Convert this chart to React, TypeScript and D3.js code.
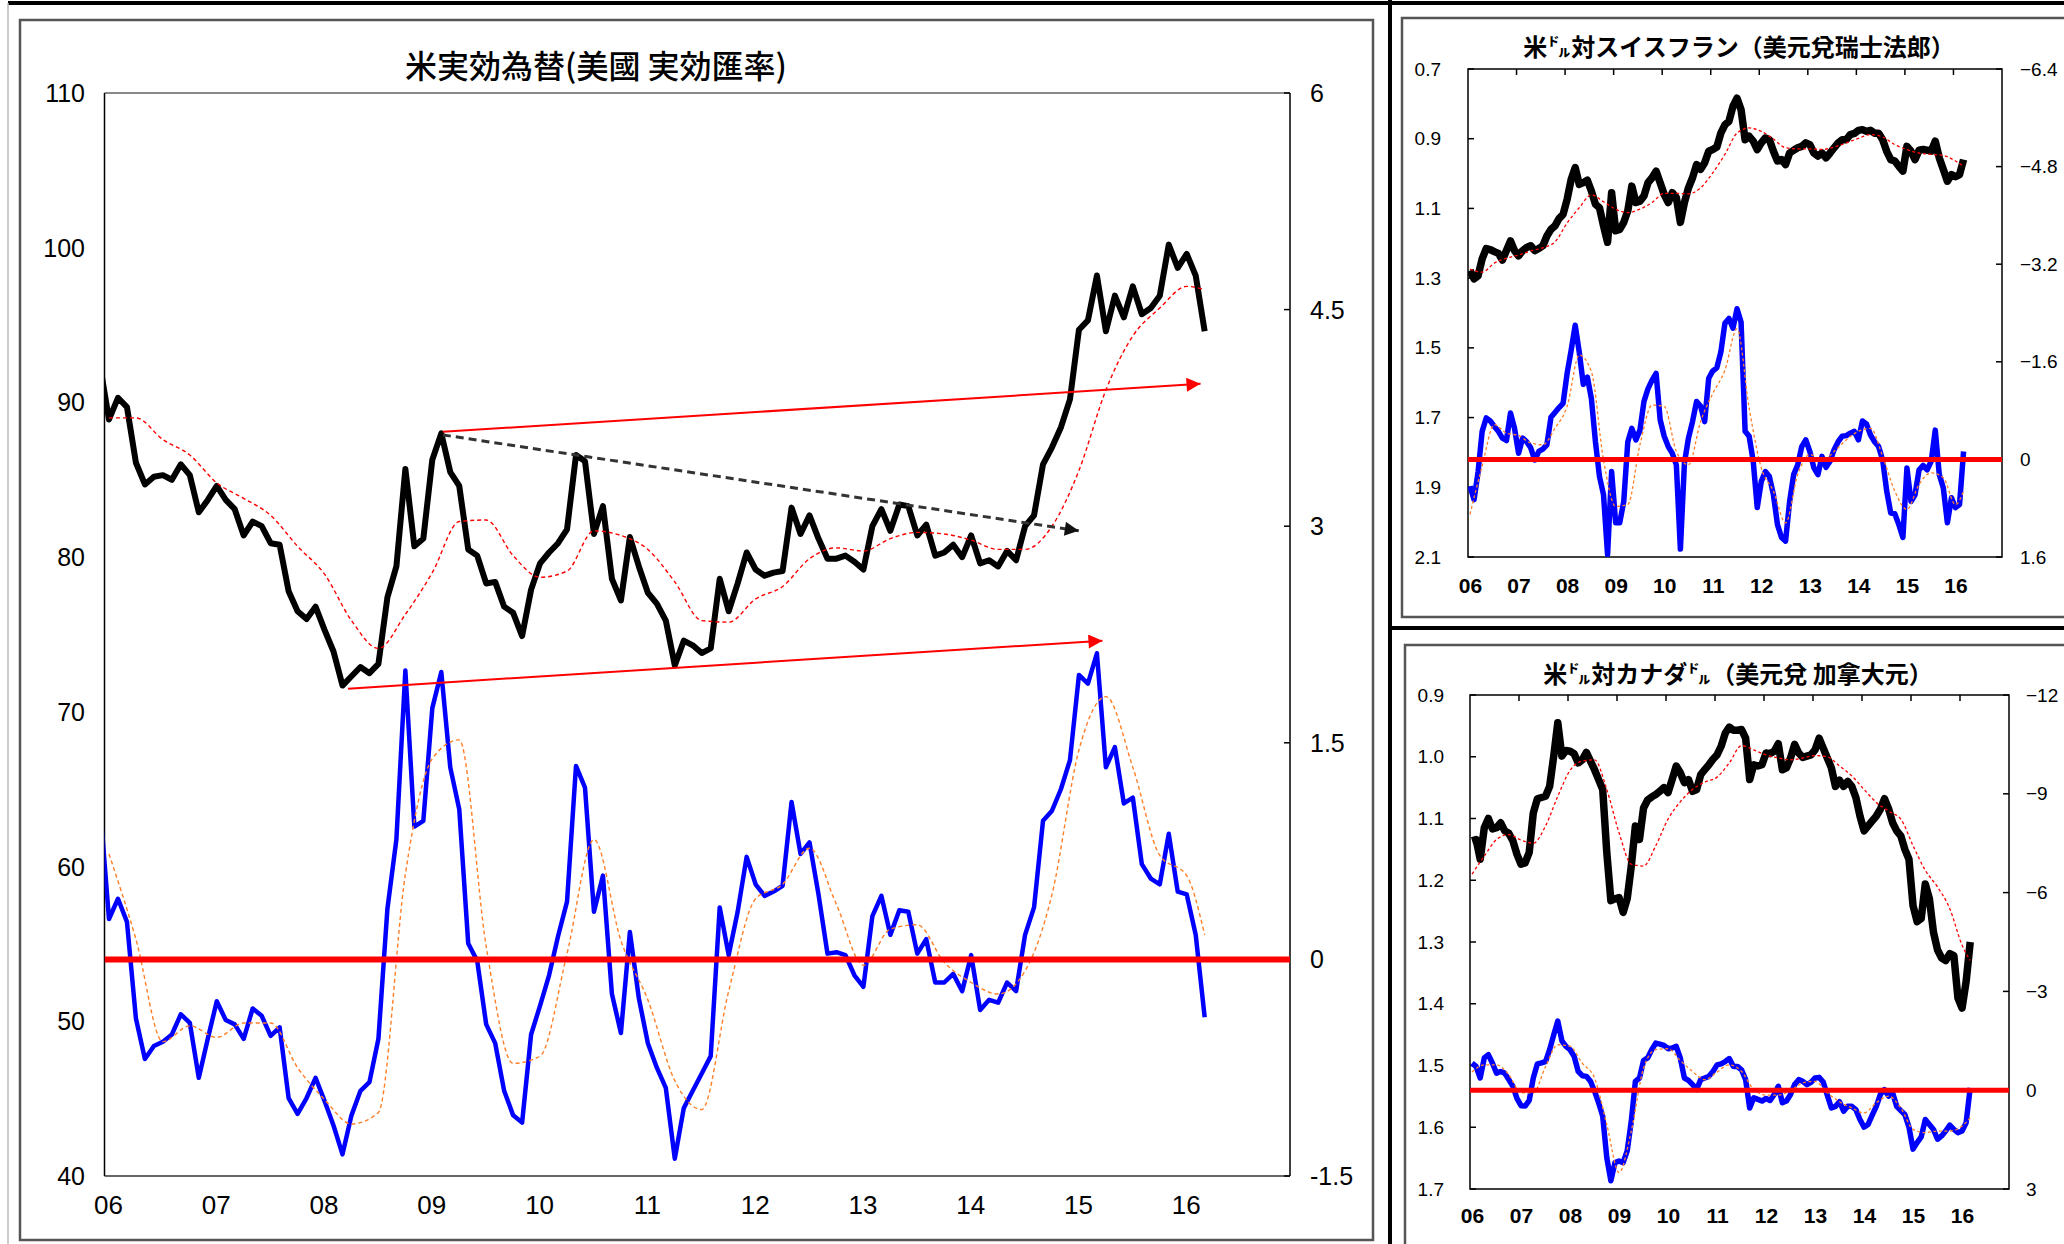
import React from 'react';
import * as d3 from 'd3';

// monthly readings, Dec 2005 (entering at the left edge) .. Mar 2016
const usdIndex = [
  92.4,
  88.9, 90.3, 89.7, 86.1, 84.7, 85.2, 85.3, 85.0, 86.0, 85.3,
  82.9, 83.7, 84.6, 83.7, 83.1, 81.4, 82.3, 82.0, 80.9, 80.8,
  77.8, 76.5, 76.0, 76.8, 75.3, 73.9, 71.7, 72.3, 72.9, 72.5,
  73.1, 77.4, 79.4, 85.7, 80.7, 81.2, 86.3, 88.0, 85.5, 84.6,
  80.5, 80.1, 78.3, 78.4, 76.8, 76.4, 74.9, 77.9, 79.6, 80.3,
  80.9, 81.8, 86.6, 86.2, 81.5, 83.3, 78.6, 77.2, 81.3, 79.4,
  77.7, 77.0, 75.9, 73.0, 74.6, 74.3, 73.8, 74.1, 78.6, 76.5,
  78.3, 80.3, 79.2, 78.8, 79.0, 79.1, 83.2, 81.5, 82.7, 81.2,
  79.9, 79.9, 80.1, 79.7, 79.2, 82.0, 83.1, 81.7, 83.4, 83.3,
  81.4, 82.1, 80.1, 80.3, 80.8, 80.0, 81.4, 79.6, 79.8, 79.4,
  80.4, 79.8, 82.0, 82.7, 86.0, 87.1, 88.4, 90.2, 94.7, 95.3,
  98.2, 94.6, 96.9, 95.5, 97.5, 95.7, 96.1, 96.9, 100.2, 98.7,
  99.6, 98.2, 94.6,
];
const usdMomentum = [
  1.07,
  0.28, 0.42, 0.26, -0.41, -0.69, -0.6, -0.57, -0.52, -0.38, -0.44,
  -0.82, -0.55, -0.29, -0.42, -0.45, -0.55, -0.34, -0.39, -0.53, -0.47,
  -0.96, -1.07, -0.96, -0.82, -0.98, -1.15, -1.35, -1.08, -0.91, -0.85,
  -0.55, 0.35, 0.83, 2.0, 0.92, 0.96, 1.74, 1.99, 1.33, 1.04,
  0.11, -0.01, -0.45, -0.58, -0.91, -1.08, -1.13, -0.52, -0.32, -0.11,
  0.16, 0.4, 1.34, 1.19, 0.33, 0.58, -0.24, -0.51, 0.19, -0.27,
  -0.58, -0.75, -0.89, -1.38, -1.03, -0.91, -0.79, -0.67, 0.36, 0.03,
  0.33, 0.71, 0.52, 0.44, 0.47, 0.51, 1.09, 0.73, 0.81, 0.45,
  0.04, 0.05, 0.03, -0.11, -0.19, 0.3, 0.44, 0.17, 0.34, 0.33,
  0.04, 0.14, -0.16, -0.16, -0.1, -0.22, 0.03, -0.35, -0.28, -0.3,
  -0.16, -0.22, 0.17, 0.36, 0.96, 1.03, 1.18, 1.38, 1.97, 1.91,
  2.12, 1.33, 1.47, 1.08, 1.12, 0.66, 0.56, 0.52, 0.87, 0.47,
  0.45, 0.17, -0.4,
];

// moving averages, read every third month (+ last month); months counted from Jan 2006
const maMonths = d3.range(0, 121, 3).concat([122]);
const usdIndexMa = [
  89.0, 89.0, 87.6, 86.6, 84.8, 83.8, 82.7, 80.7, 78.9, 75.9,
  74.1, 76.3, 79.0, 82.3, 82.4, 80.1, 78.7, 79.1, 81.7, 81.4,
  80.5, 78.4, 75.9, 75.8, 77.3, 78.1, 79.9, 80.6, 80.4, 81.2,
  81.6, 81.5, 81.1, 80.5, 80.5, 82.0, 85.6, 90.8, 94.3, 96.1,
  97.5, 97.3,
];
const usdMomentumMa = [
  0.73, 0.14, -0.57, -0.46, -0.54, -0.44, -0.44, -0.75, -0.97, -1.14,
  -1.06, 0.59, 1.39, 1.52, 0.09, -0.72, -0.67, 0.04, 0.83, 0.13,
  -0.28, -0.84, -1.04, -0.22, 0.42, 0.52, 0.77, 0.38, -0.04, 0.21,
  0.24, -0.02, -0.16, -0.24, -0.08, 0.45, 1.45, 1.82, 1.33, 0.72,
  0.58, 0.17,
];

// Jan 2006 .. Mar 2016
const chfRate = [
  1.278, 1.302, 1.293, 1.245, 1.215, 1.218, 1.224, 1.229, 1.248, 1.221,
  1.193, 1.221, 1.236, 1.221, 1.212, 1.207, 1.221, 1.215, 1.207, 1.179,
  1.16, 1.15, 1.129, 1.117, 1.074, 1.017, 0.983, 1.031, 1.026, 1.019,
  1.05, 1.088, 1.098, 1.15, 1.197, 1.055, 1.164, 1.16, 1.14, 1.107,
  1.036, 1.083, 1.079, 1.064, 1.026, 1.012, 0.993, 1.026, 1.06, 1.083,
  1.055, 1.069, 1.14, 1.083, 1.041, 1.012, 0.974, 0.988, 0.969, 0.936,
  0.931, 0.924, 0.884, 0.86, 0.85, 0.807, 0.784, 0.817, 0.903, 0.893,
  0.907, 0.931, 0.912, 0.898, 0.903, 0.936, 0.964, 0.96, 0.974, 0.941,
  0.933, 0.926, 0.922, 0.912, 0.917, 0.941, 0.95, 0.941, 0.955, 0.941,
  0.926, 0.912, 0.903, 0.903, 0.888, 0.885, 0.876, 0.874, 0.879, 0.876,
  0.884, 0.884, 0.903, 0.936, 0.96, 0.964, 0.979, 0.993, 0.922, 0.936,
  0.96, 0.933, 0.931, 0.933, 0.936, 0.907, 0.955, 0.988, 1.022, 1.003,
  1.009, 1.003, 0.96,
];
const chfRateMa = [
  1.274, 1.283, 1.257, 1.243, 1.234, 1.222, 1.213, 1.196, 1.142, 1.098,
  1.061, 1.081, 1.102, 1.112, 1.102, 1.083, 1.057, 1.057, 1.058, 1.041,
  0.998, 0.945, 0.884, 0.869, 0.879, 0.901, 0.926, 0.929, 0.929, 0.931,
  0.924, 0.912, 0.899, 0.888, 0.895, 0.917, 0.931, 0.941, 0.945, 0.948,
  0.964, 0.979,
];
const chfMomentum = [
  0.44, 0.66, 0.2, -0.46, -0.68, -0.63, -0.54, -0.46, -0.35, -0.31,
  -0.76, -0.51, -0.1, -0.35, -0.29, -0.19, 0.01, -0.13, -0.17, -0.24,
  -0.69, -0.77, -0.85, -0.92, -1.41, -1.79, -2.2, -1.76, -1.23, -1.35,
  -1.0, -0.29, 0.28, 0.58, 1.56, 0.2, 1.04, 1.04, 0.69, -0.29,
  -0.51, -0.32, -0.48, -0.95, -1.16, -1.3, -1.41, -0.65, -0.38, -0.21,
  -0.1, 0.09, 1.47, 0.06, -0.35, -0.62, -0.95, -0.87, -0.62, -1.33,
  -1.45, -1.5, -1.76, -2.23, -2.31, -2.15, -2.47, -2.25, -0.46, -0.38,
  0.03, 0.79, 0.36, 0.2, 0.28, 0.58, 1.07, 1.28, 1.34, 0.69,
  0.25, 0.09, -0.21, -0.32, -0.13, 0.14, 0.25, -0.05, 0.13, 0.03,
  -0.16, -0.29, -0.38, -0.39, -0.43, -0.46, -0.32, -0.63, -0.58, -0.4,
  -0.29, -0.21, 0.01, 0.52, 0.88, 0.89, 1.07, 1.28, 0.14, 0.69,
  0.58, 0.17, 0.1, 0.17, 0.03, -0.48, 0.25, 0.47, 1.04, 0.63,
  0.79, 0.74, -0.13,
];
const chfMomentumMa = [
  0.9, 0.11, -0.57, -0.43, -0.39, -0.27, -0.24, -0.51, -0.87, -1.71,
  -1.44, 0.01, 0.77, 0.74, -0.24, -0.89, -0.87, -0.13, 0.09, -0.62,
  -1.08, -1.46, -2.14, -0.84, 0.14, 0.52, 1.04, 0.25, -0.08, 0.03,
  -0.13, -0.32, -0.46, -0.51, -0.05, 0.52, 0.82, 0.41, 0.22, 0.3,
  0.74, 0.52,
];

const cadRate = [
  1.136, 1.134, 1.166, 1.115, 1.1, 1.117, 1.115, 1.107, 1.12, 1.124,
  1.136, 1.158, 1.174, 1.172, 1.155, 1.091, 1.068, 1.066, 1.064, 1.048,
  0.999, 0.945, 0.999, 0.99, 0.991, 0.995, 1.01, 1.005, 0.993, 1.007,
  1.021, 1.037, 1.053, 1.155, 1.233, 1.23, 1.228, 1.252, 1.23, 1.177,
  1.112, 1.134, 1.083, 1.07, 1.065, 1.061, 1.056, 1.05, 1.058, 1.037,
  1.015, 1.026, 1.042, 1.037, 1.056, 1.053, 1.029, 1.021, 1.013, 1.004,
  0.997, 0.983, 0.962, 0.952, 0.957, 0.957, 0.956, 0.97, 1.037, 1.013,
  1.015, 1.013, 0.994, 0.995, 0.991, 0.979, 1.021, 1.018, 1.002, 0.98,
  0.994, 1.001, 0.999, 0.997, 0.989, 0.97, 0.986, 1.002, 1.018, 1.048,
  1.038, 1.048, 1.04, 1.048, 1.066, 1.096, 1.12, 1.112, 1.104, 1.096,
  1.085, 1.068, 1.084, 1.107, 1.12, 1.128, 1.15, 1.166, 1.241, 1.267,
  1.262, 1.206, 1.23, 1.284, 1.313, 1.326, 1.33, 1.319, 1.322, 1.391,
  1.407, 1.364, 1.3,
];
const cadRateMa = [
  1.19, 1.161, 1.134, 1.126, 1.135, 1.14, 1.112, 1.064, 1.022, 1.007,
  1.005, 1.053, 1.123, 1.174, 1.177, 1.144, 1.101, 1.073, 1.053, 1.041,
  1.033, 1.01, 0.982, 0.989, 0.997, 1.002, 1.005, 1.002, 0.998, 1.0,
  1.015, 1.031, 1.053, 1.074, 1.088, 1.101, 1.144, 1.184, 1.211, 1.246,
  1.305, 1.33,
];
const cadMomentum = [
  -0.82, -0.72, -0.37, -0.98, -1.08, -0.82, -0.52, -0.57, -0.52, -0.32,
  -0.12, 0.25, 0.47, 0.48, 0.31, -0.37, -0.8, -0.83, -0.87, -1.23,
  -1.68, -2.1, -1.5, -1.33, -1.23, -1.03, -0.57, -0.44, -0.42, -0.27,
  0.03, 0.38, 0.79, 2.05, 2.75, 2.2, 2.15, 2.2, 1.84, 0.94,
  -0.27, -0.37, -0.9, -0.98, -1.23, -1.43, -1.4, -1.36, -1.26, -1.28,
  -1.33, -0.98, -0.37, -0.3, -0.17, -0.02, -0.32, -0.37, -0.42, -0.57,
  -0.77, -0.8, -0.87, -0.96, -0.72, -0.72, -0.62, -0.32, 0.54, 0.23,
  0.28, 0.33, 0.25, 0.31, 0.13, -0.12, 0.38, 0.33, 0.13, -0.17,
  -0.32, -0.27, -0.17, -0.24, -0.37, -0.39, -0.25, 0.15, 0.54, 0.49,
  0.35, 0.64, 0.49, 0.49, 0.59, 0.89, 1.12, 1.04, 0.76, 0.49,
  0.13, -0.02, 0.18, 0.08, 0.49, 0.62, 0.74, 1.12, 1.79, 1.59,
  1.42, 0.89, 1.04, 1.19, 1.49, 1.39, 1.24, 1.06, 1.19, 1.29,
  1.24, 0.99, -0.07,
];
const cadMomentumMa = [
  -0.55, -0.77, -0.77, -0.47, 0.08, 0.08, -0.72, -1.38, -1.33, -0.82,
  -0.37, 1.04, 2.5, 1.24, -0.67, -1.23, -1.26, -0.9, -0.57, -0.32,
  -0.55, -0.77, -0.57, -0.02, 0.15, 0.15, 0.01, -0.22, -0.27, 0.08,
  0.35, 0.54, 0.69, 0.38, 0.18, 0.54, 1.19, 1.29, 1.24, 1.24,
  1.09, 0.84,
];

const yearLabels = ['06', '07', '08', '09', '10', '11', '12', '13', '14', '15', '16'];
const mainLeftTicks = [110, 100, 90, 80, 70, 60, 50, 40];
const mainRightTicks = [6, 4.5, 3, 1.5, 0, -1.5];
const chfLeftTicks = [0.7, 0.9, 1.1, 1.3, 1.5, 1.7, 1.9, 2.1];
const chfRightTicks = [-6.4, -4.8, -3.2, -1.6, 0, 1.6];
const cadLeftTicks = [0.9, 1.0, 1.1, 1.2, 1.3, 1.4, 1.5, 1.6, 1.7];
const cadRightTicks = [-12, -9, -6, -3, 0, 3];

// hand-drawn trend arrows on the index, [year, index]
const trendArrows = [
  { from: [2009.14, 88.1], to: [2016.17, 91.2], kind: 'red' },
  { from: [2008.26, 71.5], to: [2015.26, 74.6], kind: 'red' },
  { from: [2009.14, 87.9], to: [2015.04, 81.7], kind: 'black' },
];

const monthX = (i: number) => 2006 + (i + 0.5) / 12;
const NUM_FONT = "'Liberation Sans', Arial, sans-serif";
const JP_FONT = "'Noto Sans CJK JP', sans-serif";

function MainChart() {
  const m = { x0: 104.5, x1: 1290, y0: 93, y1: 1176 };
  const x = d3.scaleLinear().domain([2006, 2017]).range([m.x0, m.x1]);
  const yL = d3.scaleLinear().domain([40, 110]).range([m.y1, m.y0]);
  const yR = d3.scaleLinear().domain([-1.5, 6]).range([m.y1, m.y0]);
  // main series begin one month before Jan 2006
  const monthly = (s: d3.ScaleLinear<number, number>) =>
    d3.line<number>().x((_, i) => x(monthX(i - 1))).y(d => s(d));
  const smooth = (s: d3.ScaleLinear<number, number>) =>
    d3.line<number>().x((_, k) => x(monthX(maMonths[k]))).y(d => s(d)).curve(d3.curveMonotoneX);

  return (
    <g>
      <text x={596} y={64} textAnchor="middle" dominantBaseline="central"
        fontFamily={JP_FONT} fontSize={32} fontWeight={500}>米実効為替(美國 実効匯率)</text>
      <defs>
        <clipPath id="clip-main"><rect x={m.x0} y={m.y0} width={m.x1 - m.x0} height={m.y1 - m.y0} /></clipPath>
        <marker id="head-red" viewBox="0 0 10 10" refX={10} refY={5} markerWidth={16} markerHeight={14}
          markerUnits="userSpaceOnUse" orient="auto">
          <path d="M0,0 L10,5 L0,10 z" fill="#ff0000" />
        </marker>
        <marker id="head-black" viewBox="0 0 10 10" refX={10} refY={5} markerWidth={16} markerHeight={14}
          markerUnits="userSpaceOnUse" orient="auto">
          <path d="M0,0 L10,5 L0,10 z" fill="#111" />
        </marker>
      </defs>
      <line x1={m.x0} x2={m.x1} y1={m.y0} y2={m.y0} stroke="#888" strokeWidth={2} />
      <line x1={m.x0} x2={m.x1} y1={m.y1} y2={m.y1} stroke="#666" strokeWidth={2} />
      <line x1={m.x0} x2={m.x0} y1={m.y0} y2={m.y1} stroke="#000" strokeWidth={1.5} />
      <line x1={m.x1} x2={m.x1} y1={m.y0} y2={m.y1} stroke="#000" strokeWidth={1.5} />
      {mainRightTicks.map(t => (
        <line key={t} x1={m.x1 - 6} x2={m.x1} y1={yR(t)} y2={yR(t)} stroke="#000" strokeWidth={1.5} />
      ))}
      <g clipPath="url(#clip-main)" fill="none" strokeLinejoin="round">
        <path d={monthly(yL)(usdIndex) ?? ''} stroke="#000" strokeWidth={6} />
        <path d={monthly(yR)(usdMomentum) ?? ''} stroke="#0000ff" strokeWidth={4.5} />
        <path d={smooth(yL)(usdIndexMa) ?? ''} stroke="#ff0000" strokeWidth={1.4} strokeDasharray="4,3" />
        <path d={smooth(yR)(usdMomentumMa) ?? ''} stroke="#ff7f27" strokeWidth={1.4} strokeDasharray="4,3" />
        <line x1={m.x0} x2={m.x1} y1={yR(0)} y2={yR(0)} stroke="#ff0000" strokeWidth={6} />
      </g>
      {trendArrows.map((a, i) => (
        <line key={i} x1={x(a.from[0])} y1={yL(a.from[1])} x2={x(a.to[0])} y2={yL(a.to[1])}
          stroke={a.kind === 'red' ? '#ff0000' : '#333'}
          strokeWidth={a.kind === 'red' ? 2 : 3}
          strokeDasharray={a.kind === 'red' ? undefined : '8,5'}
          markerEnd={a.kind === 'red' ? 'url(#head-red)' : 'url(#head-black)'} />
      ))}
      {mainLeftTicks.map(t => (
        <text key={t} x={85} y={yL(t)} textAnchor="end" dominantBaseline="central"
          fontFamily={NUM_FONT} fontSize={25}>{t}</text>
      ))}
      {mainRightTicks.map(t => (
        <text key={t} x={1310} y={yR(t)} dominantBaseline="central"
          fontFamily={NUM_FONT} fontSize={25}>{t}</text>
      ))}
      {yearLabels.map((l, i) => (
        <text key={l} x={x(2006 + i) + 4} y={1205} textAnchor="middle" dominantBaseline="central"
          fontFamily={NUM_FONT} fontSize={26}>{l}</text>
      ))}
    </g>
  );
}

type PanelProps = {
  id: string;
  title: string;
  titleX: number;
  titleY: number;
  box: { x0: number; x1: number; y0: number; y1: number };
  leftDomain: [number, number];
  leftTicks: number[];
  rightDomain: [number, number];
  rightTicks: number[];
  leftLabelX: number;
  rightLabelX: number;
  xLabelY: number;
  rate: number[];
  rateMa: number[];
  mom: number[];
  momMa: number[];
};

function RatePanel(p: PanelProps) {
  const { x0, x1, y0, y1 } = p.box;
  const x = d3.scaleLinear().domain([2006, 2017]).range([x0, x1]);
  const yL = d3.scaleLinear().domain(p.leftDomain).range([y0, y1]);
  const yR = d3.scaleLinear().domain(p.rightDomain).range([y0, y1]);
  const monthly = (s: d3.ScaleLinear<number, number>) =>
    d3.line<number>().x((_, i) => x(monthX(i))).y(d => s(d));
  const smooth = (s: d3.ScaleLinear<number, number>) =>
    d3.line<number>().x((_, k) => x(monthX(maMonths[k]))).y(d => s(d)).curve(d3.curveMonotoneX);
  const fmtMinus = (v: number) => String(v).replace('-', '\u2212');

  return (
    <g>
      <text x={p.titleX} y={p.titleY} textAnchor="middle" dominantBaseline="central"
        fontFamily={JP_FONT} fontSize={24} fontWeight={700}>{p.title}</text>
      <defs>
        <clipPath id={`clip-${p.id}`}><rect x={x0} y={y0} width={x1 - x0} height={y1 - y0} /></clipPath>
      </defs>
      <rect x={x0} y={y0} width={x1 - x0} height={y1 - y0} fill="none" stroke="#000" strokeWidth={1.5} />
      {d3.range(2007, 2017).map(yr => (
        <line key={yr} x1={x(yr)} x2={x(yr)} y1={y0} y2={y0 + 6} stroke="#000" strokeWidth={1.5} />
      ))}
      {p.leftTicks.map(t => (
        <line key={t} x1={x0} x2={x0 + 6} y1={yL(t)} y2={yL(t)} stroke="#000" strokeWidth={1.5} />
      ))}
      {p.rightTicks.map(t => (
        <line key={t} x1={x1 - 6} x2={x1} y1={yR(t)} y2={yR(t)} stroke="#000" strokeWidth={1.5} />
      ))}
      <g clipPath={`url(#clip-${p.id})`} fill="none" strokeLinejoin="round">
        <path d={monthly(yL)(p.rate) ?? ''} stroke="#000" strokeWidth={7.5} />
        <path d={monthly(yR)(p.mom) ?? ''} stroke="#0000ff" strokeWidth={5.5} />
        <path d={smooth(yL)(p.rateMa) ?? ''} stroke="#ff0000" strokeWidth={1.3} strokeDasharray="3,2.5" />
        <path d={smooth(yR)(p.momMa) ?? ''} stroke="#ff7f27" strokeWidth={1.3} strokeDasharray="3,2.5" />
        <line x1={x0} x2={x1} y1={yR(0)} y2={yR(0)} stroke="#ff0000" strokeWidth={5} />
      </g>
      {p.leftTicks.map(t => (
        <text key={t} x={p.leftLabelX} y={yL(t)} textAnchor="end" dominantBaseline="central"
          fontFamily={NUM_FONT} fontSize={19}>{t.toFixed(1)}</text>
      ))}
      {p.rightTicks.map(t => (
        <text key={t} x={p.rightLabelX} y={yR(t)} dominantBaseline="central"
          fontFamily={NUM_FONT} fontSize={19}>{fmtMinus(t)}</text>
      ))}
      {yearLabels.map((l, i) => (
        <text key={l} x={x(2006 + i) + 2.5} y={p.xLabelY} textAnchor="middle" dominantBaseline="central"
          fontFamily={"'Liberation Sans Narrow', 'Liberation Sans', sans-serif"} fontSize={21}
          fontWeight={700}>{l}</text>
      ))}
    </g>
  );
}

export default function App() {
  return (
    <svg width={2064} height={1244} viewBox="0 0 2064 1244"
      style={{ position: 'absolute', left: 0, top: 0, background: '#fff' }}>
      <rect x={0} y={0} width={2064} height={1244} fill="#fff" />
      {/* frames */}
      <line x1={8} x2={2064} y1={3} y2={3} stroke="#000" strokeWidth={4} />
      <line x1={8} x2={8} y1={3} y2={1244} stroke="#bbb" strokeWidth={1.5} />
      <line x1={1390} x2={1390} y1={0} y2={1244} stroke="#000" strokeWidth={4} />
      <line x1={1390} x2={2064} y1={628} y2={628} stroke="#000" strokeWidth={4} />
      <rect x={20} y={20} width={1353} height={1220} fill="none" stroke="#555" strokeWidth={2.5} />
      <rect x={1402} y={18} width={700} height={599} fill="none" stroke="#555" strokeWidth={2.5} />
      <rect x={1405} y={645} width={700} height={640} fill="none" stroke="#555" strokeWidth={2.5} />

      <MainChart />

      <RatePanel id="chf" title="米㌦対スイスフラン（美元兌瑞士法郎）" titleX={1739} titleY={45}
        box={{ x0: 1468, x1: 2002, y0: 69, y1: 557 }}
        leftDomain={[0.7, 2.1]} leftTicks={chfLeftTicks}
        rightDomain={[-6.4, 1.6]} rightTicks={chfRightTicks}
        leftLabelX={1441} rightLabelX={2020} xLabelY={585}
        rate={chfRate} rateMa={chfRateMa} mom={chfMomentum} momMa={chfMomentumMa} />

      <RatePanel id="cad" title="米㌦対カナダ㌦（美元兌 加拿大元）" titleX={1738} titleY={672}
        box={{ x0: 1470, x1: 2009, y0: 695, y1: 1189 }}
        leftDomain={[0.9, 1.7]} leftTicks={cadLeftTicks}
        rightDomain={[-12, 3]} rightTicks={cadRightTicks}
        leftLabelX={1444} rightLabelX={2026} xLabelY={1215}
        rate={cadRate} rateMa={cadRateMa} mom={cadMomentum} momMa={cadMomentumMa} />
    </svg>
  );
}
